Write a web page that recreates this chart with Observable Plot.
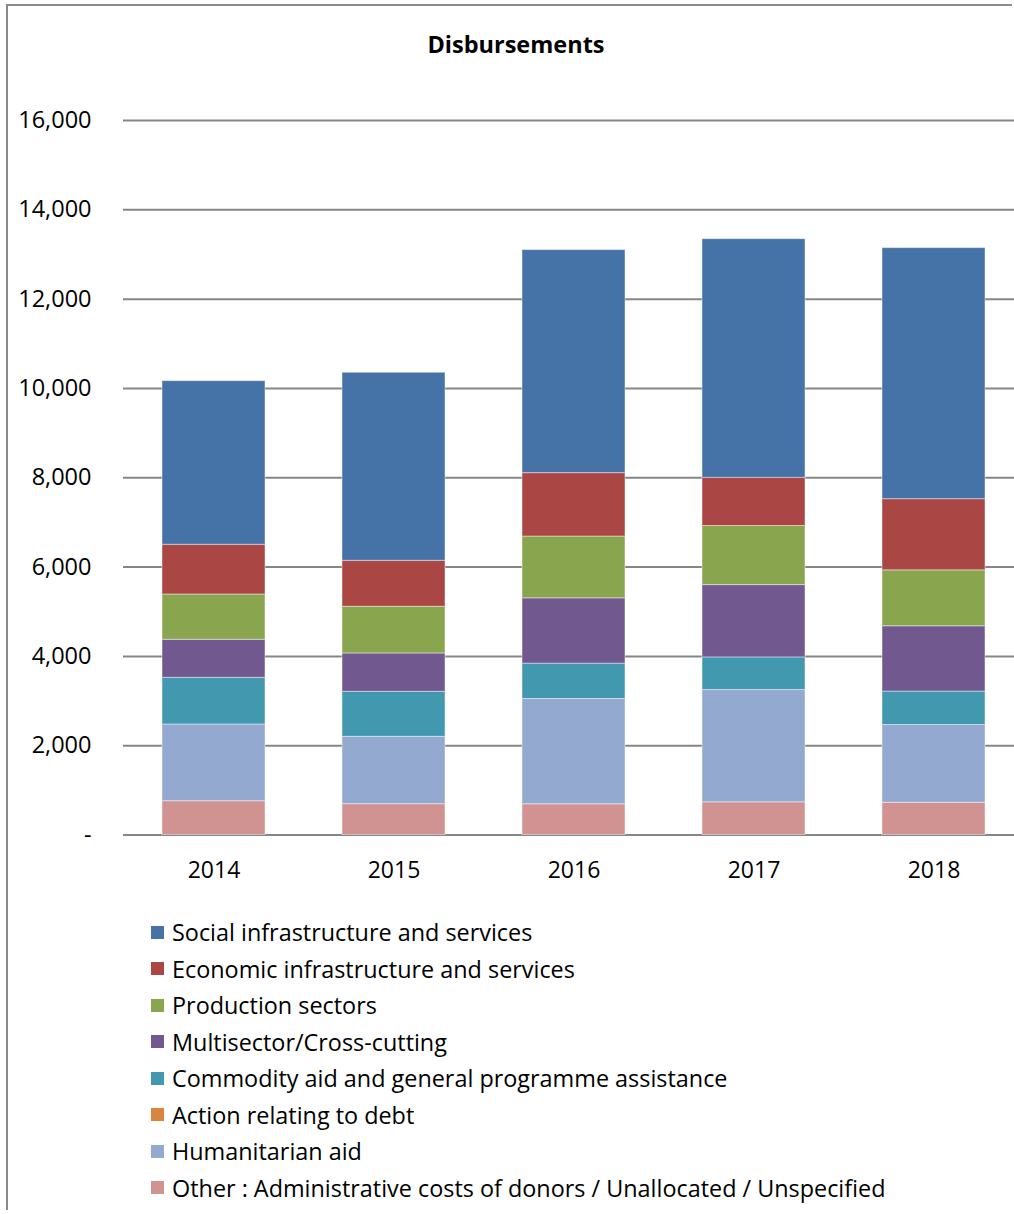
<!DOCTYPE html>
<html>
<head>
<meta charset="utf-8">
<script src="https://cdn.jsdelivr.net/npm/d3@7"></script>
<script src="https://cdn.jsdelivr.net/npm/@observablehq/plot@0.6"></script>
<style>
  html, body { margin: 0; padding: 0; background: #fff; overflow: hidden; }
  body { width: 1014px; height: 1214px; position: relative; font-family: "Open Sans", Lato, sans-serif; }
  #lineTop { position: absolute; left: 6px; top: 4px; width: 990px; height: 2px; background: #8a8a8a; }
  #lineTopEnd { position: absolute; left: 996px; top: 4px; width: 16px; height: 2px; background: #8a8a8a; }
  #lineLeft { position: absolute; left: 6px; top: 4px; width: 2px; height: 1206px; background: #8a8a8a; }
  #title { position: absolute; top: 28px; left: 18px; width: 996px; text-align: center; font-weight: bold; font-size: 23.5px; line-height: 32px; color: #000; }
  #chart { position: absolute; left: 0; top: 0; width: 1014px; }
  #legend { position: absolute; left: 151px; top: 914px; font-size: 23.4px; color: #000; }
  .item { height: 36.5px; display: flex; align-items: center; white-space: nowrap; }
  .sw { width: 13px; height: 13px; margin-right: 8px; flex: none; }
</style>
</head>
<body>
<div id="lineTop"></div>
<div id="lineTopEnd"></div>
<div id="lineLeft"></div>
<div id="title">Disbursements</div>
<div id="chart"></div>
<div id="legend"></div>
<script>
// Categories (years)
const years = ["2014", "2015", "2016", "2017", "2018"];

// Series in stacking order (bottom to top)
const seriesNames = [
  "Other : Administrative costs of donors / Unallocated / Unspecified",
  "Humanitarian aid",
  "Action relating to debt",
  "Commodity aid and general programme assistance",
  "Multisector/Cross-cutting",
  "Production sectors",
  "Economic infrastructure and services",
  "Social infrastructure and services"
];
const seriesColors = [
  "#D19392", "#93A9CF", "#DB843D", "#4198AF", "#71588F", "#89A54E", "#AA4643", "#4572A7"
];

// Values per series (same order as years)
const otherVals        = [757, 690, 688, 731, 722];
const humanitarianVals = [1718, 1509, 2358, 2515, 1741];
const debtVals         = [0, 0, 0, 0, 0];
const commodityVals    = [1046, 1008, 792, 731, 749];
const multisectorVals  = [851, 858, 1462, 1619, 1462];
const productionVals   = [1014, 1046, 1384, 1323, 1253];
const economicVals     = [1114, 1030, 1419, 1079, 1593];
const socialVals       = [3663, 4210, 4995, 5344, 5622];

// Y tick values
const yTicks = [0, 2000, 4000, 6000, 8000, 10000, 12000, 14000, 16000];

const valueArrays = [otherVals, humanitarianVals, debtVals, commodityVals, multisectorVals, productionVals, economicVals, socialVals];
const data = [];
seriesNames.forEach((s, i) => {
  years.forEach((y, j) => data.push({year: y, series: s, value: valueArrays[i][j]}));
});

const fmt = d => d === 0 ? "-" : d3.format(",")(d);

const chart = Plot.plot({
  width: 1014,
  height: 900,
  marginTop: 120,
  marginBottom: 65.5,
  marginLeft: 123,
  marginRight: 0,
  style: {fontFamily: "'Open Sans', Lato, sans-serif", fontSize: "23px", color: "#000", background: "transparent", overflow: "hidden"},
  x: {domain: years, range: [123, 1024], paddingInner: 0.43, paddingOuter: 0.215, label: null},
  y: {domain: [0, 16000], label: null},
  color: {domain: seriesNames, range: seriesColors},
  marks: [
    Plot.ruleY(yTicks, {stroke: "#868686", strokeWidth: 2}),
    Plot.barY(data, {x: "year", y: "value", fill: "series", order: seriesNames, stroke: "#ffffff", strokeOpacity: 0.45, strokeWidth: 1}),
    Plot.axisY({ticks: yTicks, tickFormat: fmt, tickSize: 0, tickPadding: 32, fontSize: 23.5, label: null}),
    Plot.axisX({tickSize: 0, tickPadding: 27, fontSize: 23, label: null})
  ]
});
document.getElementById("chart").appendChild(chart);

const legend = document.getElementById("legend");
seriesNames.slice().reverse().forEach((s, k) => {
  const idx = seriesNames.length - 1 - k;
  const row = document.createElement("div");
  row.className = "item";
  const sw = document.createElement("span");
  sw.className = "sw";
  sw.style.background = seriesColors[idx];
  const t = document.createElement("span");
  t.textContent = s;
  row.appendChild(sw);
  row.appendChild(t);
  legend.appendChild(row);
});
</script>
</body>
</html>
